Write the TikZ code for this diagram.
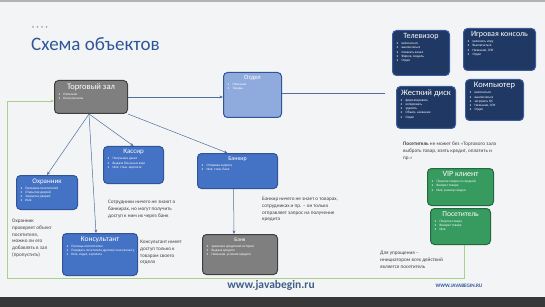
\documentclass[tikz,border=0pt]{standalone}
\usepackage{fontspec}
\setmainfont{Carlito}
\usetikzlibrary{arrows.meta,calc}
\definecolor{bg}{HTML}{F3F4F6}
\definecolor{titlec}{HTML}{2F5597}
\definecolor{grayf}{HTML}{7F7F7F}
\definecolor{grayd}{HTML}{3F3F3F}
\definecolor{ltbf}{HTML}{8FAADC}
\definecolor{ltbd}{HTML}{2F5597}
\definecolor{bluef}{HTML}{4472C4}
\definecolor{blued}{HTML}{2F5597}
\definecolor{navyf}{HTML}{1F3864}
\definecolor{navyd}{HTML}{3B5C9C}
\definecolor{greenf}{HTML}{379A5F}
\definecolor{greend}{HTML}{23693F}
\definecolor{linec}{HTML}{4F6E9E}
\definecolor{greenl}{HTML}{A9D18E}
\definecolor{notec}{HTML}{404040}
\newcommand{\bxx}[5]{\begin{minipage}[c][#2pt][t]{#1pt}\vspace*{3pt}\centering\fontsize{#3}{#3}\selectfont #4\par\vspace{1.8pt}\raggedright\fontsize{3.4}{4.2}\selectfont #5\end{minipage}}
\newcommand{\itm}[1]{\noindent\hangindent=9pt\hspace*{4pt}\makebox[5pt][l]{\textbullet}#1\par}
\begin{document}
\begin{tikzpicture}[x=1pt,y=-1pt,
  objbox/.style={rounded corners=4pt, line width=1pt, anchor=north west, inner sep=0pt, text=white},
  graybox/.style={objbox, fill=grayf, draw=grayd},
  ltbox/.style={objbox, fill=ltbf, draw=ltbd},
  bluebox/.style={objbox, fill=bluef, draw=blued},
  navybox/.style={objbox, fill=navyf, draw=navyd},
  greenbox/.style={objbox, fill=greenf, draw=greend},
  conn/.style={draw=linec, line width=0.5pt, -{Stealth[length=3.5pt,width=2.8pt]}},
  gconn/.style={draw=greenl, line width=0.9pt, -{Stealth[length=3.5pt,width=2.8pt]}},
  note/.style={anchor=north west, inner sep=0pt, align=left, text=notec, font=\fontsize{5.2}{6.8}\selectfont}
]
\useasboundingbox (0,0) rectangle (545,307);
\fill[bg] (0,0) rectangle (545,307);
\fill[gray!60] (0,0) rectangle (545,2);
\fill[black!78] (0,297) rectangle (545,307);
% title
\foreach \i in {0,1,2,3} \fill[gray!70] (33+\i*4.5,27) circle (1pt);
\node[anchor=base west, inner sep=0pt, text=titlec, font=\fontsize{19}{19}\selectfont] (title) at (31,51) {Схема объектов};
% boxes
\node[graybox] (torg) at (54,80) {\bxx{73}{33}{8.5}{Торговый зал}{\itm{Название}\itm{Консультанты}}};
\node[ltbox] (otdel) at (223,72) {\bxx{58}{45}{6.5}{Отдел}{\itm{Название}\itm{Товары}}};
\node[navybox] (tv) at (392,30) {\bxx{57}{45}{8}{Телевизор}{\itm{включаться}\itm{выключаться}\itm{показать канал}\itm{Фирма, модель}\itm{Отдел}}};
\node[navybox] (game) at (463,28) {\bxx{72}{42}{8}{Игровая консоль}{\itm{включить игру}\itm{Выключаться}\itm{Название, ОЗУ}\itm{Отдел}}};
\node[navybox] (hdd) at (396,86) {\bxx{59}{42}{8.5}{Жесткий диск}{\itm{форматировать}\itm{копировать}\itm{удалить}\itm{Объем, название}\itm{Отдел}}};
\node[navybox] (comp) at (465,79) {\bxx{58}{41}{8.5}{Компьютер}{\itm{включаться}\itm{выключаться}\itm{загрузить ОС}\itm{Название, ОЗУ}\itm{Отдел}}};
\node[greenbox] (vip) at (427,168) {\bxx{66}{37}{8}{VIP клиент}{\itm{Покупка товара со скидкой}\itm{Возврат товара}\itm{Имя, размер скидки}}};
\node[greenbox] (pos) at (430,208) {\bxx{60}{36}{7.5}{Посетитель}{\itm{Покупка товара}\itm{Возврат товара}\itm{Имя}}};
\node[bluebox] (ohr) at (16,175) {\bxx{61}{34}{7}{Охранник}{\itm{Проверка посетителей}\itm{Открытие дверей}\itm{Закрытие дверей}\itm{Имя}}};
\node[bluebox] (kass) at (103,146) {\bxx{60}{37}{7}{Кассир}{\itm{Получение денег}\itm{Выдача бонусных карт}\itm{Имя, стаж, зарплата}}};
\node[bluebox] (bankir) at (197,153) {\bxx{80}{35}{6}{Банкир}{\itm{Отправка запроса}\itm{Имя, стаж, банк}}};
\node[bluebox] (kons) at (62,233) {\bxx{75}{42}{7.5}{Консультант}{\itm{Помощь посетителям}\itm{Передать посетителя другому консультанту}\itm{Имя, отдел, зарплата}}};
\node[graybox] (bank) at (202,234) {\bxx{75}{40}{5.5}{Банк}{\itm{хранение кредитной истории}\itm{Выдача кредита}\itm{Название, условия кредита}}};
% notes
\node[note] (n1) at (403,142) {\textbf{Посетитель} не может без «Торгового зала\\выбрать товар, взять кредит, оплатить и\\пр.»};
\node[note] (n2) at (12,219) {Охранник\\проверяет объект\\посетителя,\\можно ли его\\добавлять в зал\\(пропустить)};
\node[note] (n3) at (108,200) {Сотрудники ничего не знают о\\банкирах, но могут получить\\доступ к ним их через банк};
\node[note] (n4) at (262,197) {Банкир ничего не знает о товарах,\\сотрудниках и пр. – он только\\отправляет запрос на получение\\кредита};
\node[note] (n5) at (140,240) {Консультант имеет\\доступ только к\\товарам своего\\отдела};
\node[note] (n6) at (380,251) {Для упрощения –\\инициатором всех действий\\является посетитель};
\node[anchor=center, inner sep=0pt, text=linec!85!black, font=\fontsize{11.5}{11.5}\selectfont\bfseries] (www1) at (271,285) {www.javabegin.ru};
\node[anchor=center, inner sep=0pt, text=titlec, font=\fontsize{5.2}{5.2}\selectfont\bfseries] (www2) at (459,286) {WWW.JAVABEGIN.RU};
% connectors
\coordinate (ts) at ($(torg.south)+(-2,0)$);
\draw[conn] (ts) -- (ohr.north);
\draw[conn] (ts) -- ($(kons.north)+(-4,0)$);
\draw[conn] (ts) -- (kass.north);
\draw[conn] (torg.south east) -- ($(bankir.north)+(-10,0)$);
\draw[conn] ($(bankir.south)+(-4,0)$) -- ($(bank.north)+(-6,0)$);
\draw[conn] (torg.east) -- (torg.east -| otdel.west);
\coordinate (oe) at (385,93);
\draw[draw=linec, line width=0.5pt] (otdel.east |- oe) -- (oe);
% green path
\coordinate (g1) at (464,278);
\coordinate (g2) at (7,278);
\coordinate (g3) at (7,101);
\draw[gconn] (pos.south -| g1) -- (g1) -- (g2) -- (g3) -- (g3 -| torg.west);
\end{tikzpicture}
\end{document}
